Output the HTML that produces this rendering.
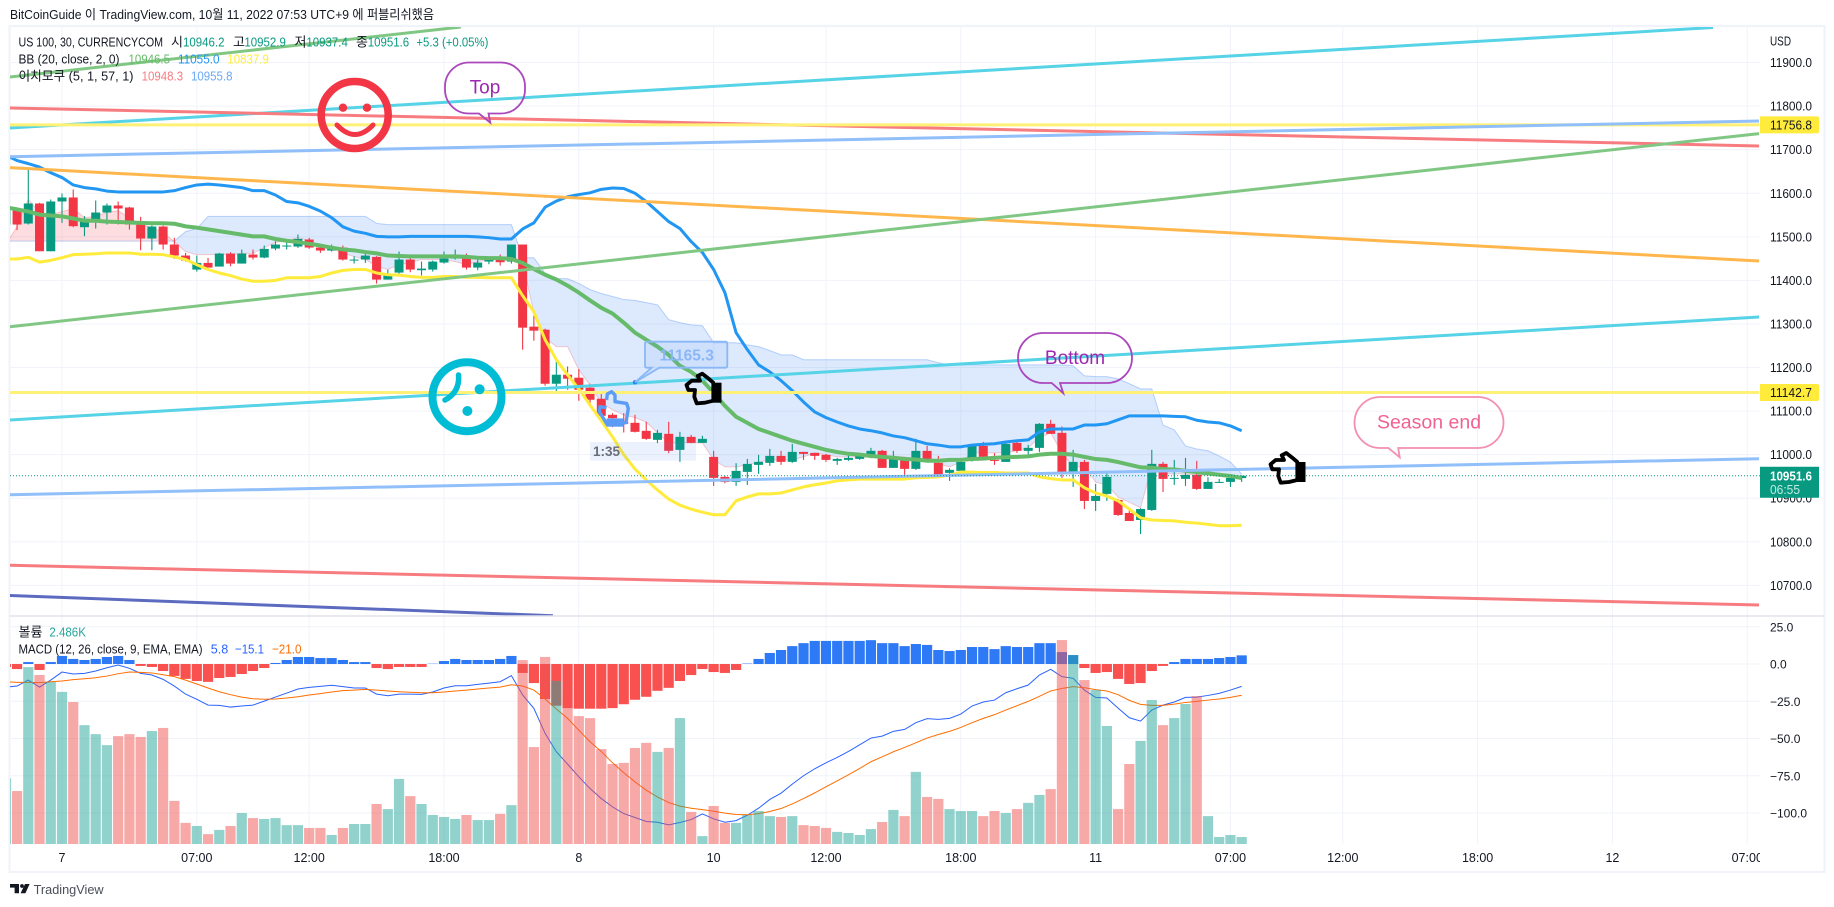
<!DOCTYPE html>
<html lang="ko">
<head>
<meta charset="utf-8">
<title>US 100 TradingView chart</title>
<style>
html,body{margin:0;padding:0;background:#fff;width:1834px;height:907px;overflow:hidden}
svg{display:block}
text{font-family:"Liberation Sans","Noto Sans CJK KR",sans-serif;font-size:13px;fill:#131722}
</style>
</head>
<body>
<svg id="chart" xmlns="http://www.w3.org/2000/svg" width="1834" height="907" viewBox="0 0 1834 907">
<defs>
<clipPath id="mainClip"><rect x="10" y="27" width="1750" height="589"/></clipPath>
<clipPath id="subClip"><rect x="10" y="617" width="1750" height="227"/></clipPath>
<clipPath id="timeClip"><rect x="10" y="845" width="1750" height="26"/></clipPath>
</defs>
<text x="10" y="19" textLength="424" lengthAdjust="spacingAndGlyphs">BitCoinGuide 이 TradingView.com, 10월 11, 2022 07:53 UTC+9 에 퍼블리쉬했음</text>
<rect x="9.5" y="26" width="1815" height="846" fill="none" stroke="#f0f3fa" stroke-width="2.2"/>
<g id="grid"></g>
<g clip-path="url(#mainClip)">
  <g id="cloud"></g>
  <g id="candles"></g>
  <g id="bands"></g>
  <g id="trends"></g>
  <g id="lastLine"></g>
</g>
<g clip-path="url(#subClip)">
  <g id="hist"></g>
  <g id="macdLines"></g>
  <g id="volume"></g>
</g>
<line x1="10" y1="616" x2="1824" y2="616" stroke="#e0e3eb" stroke-width="1.4"/>

<!-- drawings -->
<g fill="none" stroke="#f23645">
  <ellipse cx="354.7" cy="115" rx="33.5" ry="33.5" stroke-width="7.5"/>
  <circle cx="343" cy="107.7" r="4.2" fill="#f23645" stroke="none"/>
  <circle cx="367" cy="107.7" r="4.2" fill="#f23645" stroke="none"/>
  <path d="M337 125 Q355 144 373 125" stroke-width="5" stroke-linecap="round"/>
</g>
<g fill="none" stroke="#00bcd4">
  <ellipse cx="467" cy="396.7" rx="34.5" ry="34.5" stroke-width="8"/>
  <circle cx="479.6" cy="389.3" r="5" fill="#00bcd4" stroke="none"/>
  <circle cx="467.4" cy="411" r="5" fill="#00bcd4" stroke="none"/>
  <path d="M458.5 375 Q460 392 445 400" stroke-width="5.5" stroke-linecap="round"/>
</g>
<g>
  <path d="M469 62.5 H501 A24 24 0 0 1 525 86.5 V89.5 A24 24 0 0 1 501 113.5 H488.5 L490.3 122.7 L479 113.5 H469 A24 24 0 0 1 445 89.5 V86.5 A24 24 0 0 1 469 62.5 Z" fill="none" stroke="#ab47bc" stroke-width="1.8"/>
  <text x="485" y="93.5" text-anchor="middle" style="font-size:19px;fill:#9c27b0">Top</text>
</g>
<g>
  <path d="M1043 333 H1107 A25 25 0 0 1 1132 358 A25 25 0 0 1 1107 383 H1060 L1063.3 393.3 L1051.7 383 H1043 A25 25 0 0 1 1018 358 A25 25 0 0 1 1043 333 Z" fill="none" stroke="#ab47bc" stroke-width="1.8"/>
  <text x="1075" y="364" text-anchor="middle" style="font-size:19px;fill:#9c27b0">Bottom</text>
</g>
<g>
  <path d="M1380 397 H1478 A25.5 25.5 0 0 1 1503.5 422.5 A25.5 25.5 0 0 1 1478 448 H1398.2 L1399.7 457.3 L1388.5 448 H1380 A25.5 25.5 0 0 1 1354.5 422.5 A25.5 25.5 0 0 1 1380 397 Z" fill="none" stroke="#f48fb1" stroke-width="1.8"/>
  <text x="1429" y="428.5" text-anchor="middle" style="font-size:19.5px;fill:#f06292">Season end</text>
</g>
<g>
  <circle cx="635" cy="382.3" r="2.2" fill="#2f7ff0"/>
  <path d="M635 382.3 L651.7 367.7 H647 Q645 367.7 645 365.7 V343.7 Q645 341.7 647 341.7 H725.3 Q727.3 341.7 727.3 343.7 V365.7 Q727.3 367.7 725.3 367.7 H659.3 Z" fill="rgba(90,150,245,.1)" stroke="#8ab8f6" stroke-width="1.8"/>
  <text x="686.7" y="360.5" text-anchor="middle" style="font-size:15.5px;font-weight:bold;fill:#8ab8f6">11165.3</text>
</g>
<g transform="translate(598.3,391.7)" fill="none" stroke="#5b9cf6" stroke-width="3.4" stroke-linejoin="round">
  <path d="M8.3 8.3 L9 2.3 L13.3 0 L16.7 3.3 L16.7 10 L28.3 11.7 L30 16.7 L27.7 31 L9 33 L1 20 L1.7 15 L8.3 16"/>
  <rect x="8.3" y="26.7" width="17" height="8.3" fill="#5b9cf6" stroke="none"/>
</g>
<g>
  <rect x="590" y="442" width="106" height="18.7" fill="rgba(80,140,240,.11)"/>
  <text x="593" y="456" style="font-size:13.5px;font-weight:bold;fill:#6a6d78">1:35</text>
</g>
<g transform="translate(685,372.7)" fill="none" stroke="#000" stroke-width="3.8" stroke-linejoin="round">
  <path d="M1.5 12.3 L6.7 8 L15 8 L12.7 3.3 L17.3 1 L23.3 5.7 L28.3 10 V28 L20 30 L11.7 30.7 L9.3 24 L10 17.3 L3.3 17.3 Z"/>
  <rect x="27" y="10" width="9.5" height="20" fill="#000" stroke="none"/>
</g>
<g transform="translate(1269,452)" fill="none" stroke="#000" stroke-width="3.8" stroke-linejoin="round">
  <path d="M1.5 12.3 L6.7 8 L15 8 L12.7 3.3 L17.3 1 L23.3 5.7 L28.3 10 V28 L20 30 L11.7 30.7 L9.3 24 L10 17.3 L3.3 17.3 Z"/>
  <rect x="27" y="10" width="9.5" height="20" fill="#000" stroke="none"/>
</g>

<!-- legends -->
<g>
  <text x="18.5" y="46.5" textLength="144.5" lengthAdjust="spacingAndGlyphs">US 100, 30, CURRENCYCOM</text>
  <text x="171" y="46.5">시</text>
  <text x="183" y="46.5" textLength="41.5" lengthAdjust="spacingAndGlyphs" style="fill:#089981">10946.2</text>
  <text x="233" y="46.5">고</text>
  <text x="244.4" y="46.5" textLength="41.5" lengthAdjust="spacingAndGlyphs" style="fill:#089981">10952.9</text>
  <text x="294.5" y="46.5">저</text>
  <text x="306.4" y="46.5" textLength="41.5" lengthAdjust="spacingAndGlyphs" style="fill:#089981">10937.4</text>
  <text x="356" y="46.5">종</text>
  <text x="367.7" y="46.5" textLength="41.5" lengthAdjust="spacingAndGlyphs" style="fill:#089981">10951.6</text>
  <text x="416.4" y="46.5" textLength="72" lengthAdjust="spacingAndGlyphs" style="fill:#089981">+5.3 (+0.05%)</text>
  <text x="18.5" y="63.5" textLength="101" lengthAdjust="spacingAndGlyphs">BB (20, close, 2, 0)</text>
  <text x="128.5" y="63.5" textLength="41.5" lengthAdjust="spacingAndGlyphs" style="fill:#66bb6a">10946.5</text>
  <text x="178" y="63.5" textLength="41.5" lengthAdjust="spacingAndGlyphs" style="fill:#2196f3">11055.0</text>
  <text x="227.4" y="63.5" textLength="41.5" lengthAdjust="spacingAndGlyphs" style="fill:#ffeb3b">10837.9</text>
  <text x="18.5" y="80.5" textLength="115" lengthAdjust="spacingAndGlyphs">이치모쿠 (5, 1, 57, 1)</text>
  <text x="141.6" y="80.5" textLength="41.5" lengthAdjust="spacingAndGlyphs" style="fill:#f77c80">10948.3</text>
  <text x="191" y="80.5" textLength="41.5" lengthAdjust="spacingAndGlyphs" style="fill:#6aa8f5">10955.8</text>
</g>
<g>
  <text x="18.5" y="636.5">볼륨</text>
  <text x="49.4" y="636.5" textLength="36.5" lengthAdjust="spacingAndGlyphs" style="fill:#26a69a">2.486K</text>
  <text x="18.5" y="653.5" textLength="184" lengthAdjust="spacingAndGlyphs">MACD (12, 26, close, 9, EMA, EMA)</text>
  <text x="210.8" y="653.5" textLength="17.5" lengthAdjust="spacingAndGlyphs" style="fill:#2962ff">5.8</text>
  <text x="235" y="653.5" textLength="29" lengthAdjust="spacingAndGlyphs" style="fill:#2962ff">−15.1</text>
  <text x="272" y="653.5" textLength="29.5" lengthAdjust="spacingAndGlyphs" style="fill:#ff6d00">−21.0</text>
</g>
<g id="priceAxis">
  <text x="1770" y="45.5" textLength="21" lengthAdjust="spacingAndGlyphs">USD</text>
</g>
<g id="macdAxis"></g>
<g id="timeAxis" clip-path="url(#timeClip)"></g>
<g id="tags"></g>
<g>
  <polygon points="10,884 19,884 19,893.3 14.6,893.3 14.6,887.6 10,887.6" fill="#131722"/>
  <circle cx="22" cy="886" r="1.9" fill="#131722"/>
  <polygon points="25,884 29.6,884 25.4,893.3 20.6,893.3" fill="#131722"/>
  <text x="33.6" y="894" textLength="70" lengthAdjust="spacingAndGlyphs" style="fill:#4a4e59">TradingView</text>
</g>
</svg>
<script>
// ---- data (bars run from firstBar to firstBar + length - 1) ----
const firstBar = -5;
const opens = [
11528.2,11562.7,11530.5,11576.5,11466.9,11581.1,11590.3,11522.1,11539.7,11555.8,
11571.9,11567.3,11528.2,11496.1,11523.6,11482.3,11457,11424.8,11440.1,11431.7,
11461.6,11438.6,11459.3,11452.4,11473.1,11478.4,11477.7,11493.8,11475.4,11468.5,
11475.4,11446.3,11447.8,11453.9,11401.8,11417.9,11447.8,11423.3,11424.8,11440.9,
11450.1,11450.1,11429.4,11443.2,11447.8,11443.2,11482.3,11293.8,11286.9,11162.8,
11183.5,11176.6,11153.6,11128.3,11091.5,11075.4,11073.1,11054.7,11034,11047.8,
11011,11040.9,11027.1,10994.9,10949,10937.5,10960.5,10976.6,10981.2,10997.2,
10983.5,11006.4,11004.1,10999.6,10985.8,10988,10990.3,10999.6,11008.8,10969.7,
10988,10967.4,11008.7,10981.2,10958.2,10962.8,10988,11020.2,10988,10983.4,
11027.1,11008.7,11015.6,11070.8,11050.1,10955.9,10983.4,10893.8,10909.9,10896.1,
10866.2,10850.1,10873.1,10978.9,10944.4,10944.4,10953.6,10921.4,10935.2,10937.5,10946.2];
const highs = [
11574,11566.6,11660,11578,11585.7,11599.5,11608.7,11547.4,11583.4,11576.5,
11581.1,11568.9,11545.9,11525.9,11525.9,11497.6,11463.1,11457,11451.6,11463.1,
11464.6,11470.8,11470.8,11480,11489.9,11487.6,11505.3,11497.6,11480,11482.3,
11480,11455.5,11464.6,11455.5,11424.8,11466.2,11451.6,11443.2,11445.5,11466.2,
11470.8,11461.6,11450.9,11453.9,11459.3,11482.3,11482.3,11319.1,11289.2,11214.1,
11202.6,11196.5,11162.8,11145.1,11095.3,11095.3,11091.5,11075.4,11057,11075.4,
11052.4,11045.5,11043.2,11008.8,10951.3,10980.4,10990.3,10999.6,11013.3,11008.8,
11024.8,11006.4,11004.1,11001.8,10992.6,10999.6,11001.8,11015.6,11011.1,11008.8,
10994.2,11036.3,11020.2,10997.3,10968.9,10988,11022.5,11029.4,11003.4,11030.2,
11032.5,11022.5,11072.3,11080,11064.7,11011,10988,10932.9,10960.5,10898.4,
10877.7,10877,11011,10983.4,10988,10992.6,10985.7,10948.2,10944.4,10953.6,10952.9];
const lows = [
11524.4,11515.2,11528.2,11466.9,11466.9,11532.1,11522.1,11501.4,11519,11528.2,
11528.2,11516.7,11469.2,11469.2,11470.8,11449.3,11443.2,11420.2,11429.4,11431.7,
11432.5,11438.6,11447.8,11450.9,11469.2,11470.8,11474.6,11472.3,11463.1,11466.2,
11445.5,11438.6,11440.1,11392.6,11401.8,11415.6,11418.7,11411,11420.2,11438.6,
11447.8,11424.8,11423.3,11437.1,11434,11438.6,11240.9,11261.6,11158.2,11145.9,
11149,11123.7,11114.5,11087.7,11063.2,11050.9,11050.9,11034,11026.4,11003.4,
10983.5,11026.4,11027.1,10928.3,10934.4,10928.3,10930.6,10955.9,10974.3,10976.6,
10981.2,10988,10988,10983.5,10976.6,10985.8,10988,10991.9,10969.7,10969.7,
10953.6,10965.1,10988,10953.6,10939.8,10960.5,10984.2,10992.6,10976.6,10983.4,
11004.1,10997.3,11006.4,11047.8,10946.7,10926,10875.4,10870.8,10893.8,10859.3,
10847.8,10817.9,10870.8,10914.5,10930.6,10928.3,10919.1,10921.4,10935.2,10926,10937.4];
const closes = [
11570.4,11528.2,11576.5,11466.9,11581.1,11590.3,11524.4,11541.3,11555.8,11571.9,
11565,11528.2,11496.1,11523.6,11482.3,11457,11445.5,11440.1,11429.4,11461.6,
11438.6,11461.6,11452.4,11472.3,11482.3,11480,11495.3,11475.4,11468.5,11473.8,
11447.8,11447.8,11457,11401.8,11411,11447.8,11424.8,11427.1,11443.2,11450.1,
11452.4,11429.4,11440.9,11447.8,11441.7,11482.3,11291.5,11284.6,11162.8,11183.5,
11174.3,11149,11126,11089.2,11083.8,11070.8,11052.4,11036.3,11050.1,11008.8,
11040.9,11027.1,11036.3,10946.7,10937.5,10962.8,10978.8,10983.5,10997.2,10983.5,
11006.4,11001.8,10997.2,10988,10990.3,10992.6,10997.2,11008.8,10969.7,10990.3,
10967.4,11008.7,10990.3,10953.6,10965.1,10983.4,11020.2,10995,10985.7,11024.8,
11008.7,11015.6,11070.8,11047.8,10955.9,10983.4,10893.8,10905.3,10949,10861.6,
10847.8,10875.4,10978.9,10944.4,10946.7,10953.6,10921.4,10937.5,10937.5,10946.7,10951.6];
const bbUpper = [
11687,11675,11668,11660,11647,11636,11619,11613,11610,11605,
11603,11603,11603,11603,11603,11606,11613,11619,11621,11619,
11616,11613,11606,11606,11596,11581,11578,11570,11559,11544,
11523,11513,11508,11501,11500,11500,11501,11501,11501,11501,
11501,11501,11500,11498,11495,11495,11518,11532,11568,11582,
11592,11597,11601,11609,11612,11611,11600,11581,11558,11535,
11519,11489,11464,11425,11372,11280,11241,11206,11190,11170,
11147,11121,11098,11085,11075,11066,11059,11055,11050,11043,
11039,11032,11025,11022,11018,11018,11022,11024,11025,11029,
11032,11034,11052,11059,11059,11059,11068,11068,11071,11080,
11089,11089,11089,11089,11088,11087,11079,11075,11073,11066,11055];
const bbBasis = [
11568,11563,11558,11551,11549,11547,11542,11537,11537,11535,
11534,11533,11532,11531,11531,11530,11524,11521,11517,11513,
11509,11505,11501,11501,11495,11491,11488,11484,11480,11475,
11471,11469,11465,11462,11457,11456,11455,11455,11455,11455,
11455,11454,11452,11451,11451,11449,11440,11426,11413,11402,
11388,11372,11354,11337,11324,11303,11280,11264,11248,11229,
11204,11190,11170,11142,11112,11087,11073,11059,11050,11041,
11032,11025,11018,11011,11006,11002,11000,10997,10995,10993,
10990,10989,10986,10986,10988,10988,10990,10991,10993,10994,
10995,10996,11000,11002,11002,11000,10995,10990,10988,10983,
10977,10971,10970,10967,10966,10963,10960,10957,10954,10951,10946.5];
const bbLower = [
11449,11449,11453,11442,11446,11452,11459,11460,11461,11463,
11463,11463,11460,11460,11459,11454,11448,11436,11425,11417,
11411,11403,11398,11398,11400,11406,11406,11406,11409,11417,
11423,11425,11425,11417,11413,11412,11409,11407,11407,11409,
11409,11407,11407,11406,11406,11406,11365,11328,11264,11218,
11183,11151,11114,11078,11041,11000,10967,10942,10919,10898,
10884,10875,10868,10862,10862,10894,10903,10910,10910,10912,
10919,10926,10931,10935,10940,10942,10944,10944,10944,10944,
10944,10947,10948,10949,10953,10960,10960,10959,10959,10958,
10958,10958,10949,10945,10942,10942,10924,10912,10905,10894,
10875,10855,10850,10849,10848,10845,10843,10840,10837,10837,10838];
const spanB = [
11490,11490,11490,11490,11490,11490,11490,11490,11490,11490,
11490,11490,11490,11490,11490,11490,11512,11519,11547,11547,
11547,11547,11547,11547,11547,11547,11547,11547,11547,11547,
11547,11547,11547,11531,11528,11528,11528,11528,11528,11528,
11528,11528,11528,11528,11528,11528,11452,11452,11416,11404,
11404,11393,11379,11370,11363,11356,11354,11349,11344,11310,
11303,11298,11296,11257,11257,11257,11252,11248,11239,11229,
11229,11218,11218,11218,11218,11218,11218,11218,11218,11218,
11218,11218,11218,11211,11206,11206,11206,11206,11206,11206,
11206,11206,11206,11206,11206,11204,11181,11179,11179,11174,
11163,11151,11151,11068,11057,11020,11013,11009,10997,10983,10955.8];
const spanLead = [
11482,11524,11586,11556,11551,11558,11565,11544,11547,11556,
11560,11544,11528,11521,11510,11489,11466,11459,11459,11459,
11459,11462,11462,11475,11487,11491,11498,11491,11480,11475,
11462,11455,11448,11432,11425,11436,11441,11448,11448,11448,
11443,11436,11443,11448,11452,11457,11441,11326,11268,11248,
11248,11195,11160,11119,11103,11091,11085,11075,11050,11027,
11027,11027,11027,10988,10972,10972,10976,10983,10988,10988,
10988,10995,11004,11000,10995,10995,10995,10995,10995,10995,
10995,10988,10988,10979,10972,10983,11004,11004,11004,11004,
11009,11016,11039,11050,11004,10972,10972,10937,10930,10903,
10891,10878,10972,10956,10956,10956,10953,10953,10951,10951,10948.3];
const volumes = [
23.3,18.8,62.8,60,57.5,54,50.4,42.2,39,35.1,
38.3,39,38,40.1,41.2,15.3,7.5,6.4,3.5,5,
6.4,11,9.2,8.9,9.2,6.7,6.7,5.7,5.7,3.2,
5.7,7.1,7.1,14.2,12.4,23.1,17,14.2,10.3,9.6,
8.9,10.3,8.5,8.5,10.7,13.8,65.3,34.4,66.4,57.9,
48.3,45.4,44.7,33.7,28.4,28.8,34.1,35.9,32.7,34.1,
44.7,11.4,2.8,13.5,7.5,7.5,10.3,11.7,9.9,9.6,
9.9,6.7,6.4,5.7,4.3,3.9,3.2,5.3,7.8,12.1,
9.9,25.6,16.7,16,12.4,11.7,11.7,9.9,11.7,11,
12.4,14.6,17.4,19.5,72.4,67.1,58.2,54.7,41.9,12.4,
28.4,36.6,51.1,42.2,44.7,49.7,52.5,9.9,2.5,3.2,2.486];
const macdHist = [
-2,-3.4,1.3,-4,1.3,5.4,3.4,2.7,3.4,4.7,
5.4,2.7,-1.3,-2,-4.7,-8,-10,-11.4,-12,-9.4,
-8.7,-6.7,-4.7,-2.7,0.7,2.7,4.7,4.7,4,4,
2.7,1.3,1.3,-2.7,-3.4,-2,-2,-2,0.2,2,
3.4,2.7,2.7,2.7,3.4,5.4,-6,-12.8,-23.5,-28,
-29.6,-30,-30,-30,-29.6,-27,-24,-22,-18,-16,
-11.4,-7.4,-3.4,-5.4,-6,-4,0.3,3.4,7.4,9.4,
12,14,15.5,15.5,15.5,15.5,15.5,16,14,14,
12,13.4,12.8,9.4,8.7,9.4,11.4,11.4,10,12,
11.4,11.4,14,14,8,6,-2.7,-6,-5.4,-10,
-13.4,-12.8,-4.7,-1.3,1.3,3.4,3.4,3.4,4,4.7,5.8];
const macdLine = [
-15.5,-14.8,-10.8,-15.5,-10.8,-5.4,-6.7,-6.3,-4.7,-2.5,
-0.7,-2.9,-6.3,-7.4,-10.3,-14.8,-20.2,-23.7,-27.6,-27.8,
-28.9,-28.2,-27.6,-24.9,-22.2,-19.5,-16.8,-15.7,-15,-14.3,
-15.2,-16.1,-16.1,-20.2,-21.3,-20.2,-20.2,-20.4,-18.8,-16.1,
-14.6,-14.6,-13.7,-12.8,-11.9,-7.8,-20.8,-29.8,-46.6,-58.9,
-67.2,-75.7,-83.6,-90.3,-95.9,-100.4,-103,-105.7,-106.2,-108,
-106.4,-104.4,-100.6,-103.9,-106.2,-105.1,-101.5,-96.8,-90.9,-86.7,
-80.6,-75,-70.3,-66.3,-62.7,-58.7,-54.2,-49.7,-48.4,-45.2,
-43.9,-39.4,-36.7,-37.2,-36.5,-33.6,-28.2,-25.5,-24.2,-19.3,
-16.6,-14.1,-7.4,-3.6,-8.5,-9.6,-17.5,-22.4,-22.8,-29.6,
-36.1,-38.3,-30.9,-27.6,-25.5,-22.4,-22.2,-21.1,-19.7,-17.5,-15];
const macdSignal = [
-11.9,-12.3,-12.3,-12.5,-11.9,-11.4,-10.5,-9.9,-9.2,-8.1,
-6.5,-5.4,-5.6,-6,-7.2,-8.5,-10.8,-13.4,-16.1,-18.6,
-20.6,-22.2,-23.3,-23.7,-23.5,-22.8,-22,-20.8,-19.9,-18.8,
-17.9,-17.5,-17,-17.5,-18.1,-18.6,-19,-19.3,-19.3,-18.8,
-18.1,-17.5,-16.8,-16.1,-15.5,-13.9,-14.8,-17.5,-23.5,-30.2,
-36.5,-44.4,-52.2,-58.7,-66.3,-73,-79.1,-84.7,-89.2,-93,
-95.4,-96.8,-97.7,-98.8,-100.1,-101,-101.2,-100.4,-99,-97,
-93.9,-90.3,-86.5,-82.4,-78.4,-74.4,-70.1,-65.6,-62.3,-58.9,
-56,-52.9,-49.7,-47.3,-45.2,-42.6,-39.4,-36.5,-34,-30.9,
-28,-25.1,-21.7,-18.1,-16.4,-15.2,-15.9,-17.2,-18.1,-20.6,
-24.4,-27.1,-27.8,-27.8,-26.9,-25.8,-25.1,-24.2,-23.5,-22.4,-21];
const priceTicks = [11900,11800,11700,11600,11500,11400,11300,11200,11100,11000,10900,10800,10700];
const macdTicks = [25,0,-25,-50,-75,-100];
const timeBars = [0,12,22,34,46,58,68,80,92,104,114,126,138,150];
const timeLabels = ['7','07:00','12:00','18:00','8','10','12:00','18:00','11','07:00','12:00','18:00','12','07:00'];
const trendNames = ['green-top','cyan-top','red-top','yellow-top','blue-top','orange-mid','green-mid','cyan-mid','yellow-mid','blue-low','red-low','navy-low'];
const trendStartBar = [-4.63,-4.63,-4.63,-4.63,-4.63,-4.63,-4.63,-4.63,-4.63,-4.63,-4.63,-4.63];
const trendStartPrice = [11866.8,11749.8,11795.7,11756.8,11683.9,11658.7,11293.7,11079.6,11142.7,10908.1,10746.1,10676.8];
const trendEndBar = [35.5,146.95,151.05,151.05,151.05,151.05,151.05,151.05,151.05,151.05,151.05,43.7];
const trendEndPrice = [11981.6,11980.4,11708.5,11756.8,11765.8,11444.5,11736.9,11316,11142.7,10990.7,10655,10630.4];
const trendColors = ['#81c784','#56d3e6','#f77c80','#fff176','#90bff9','#ffb74d','#81c784','#56d3e6','#fff176','#90bff9','#f77c80','#5c6bc0'];
const lastPrice = 10951.6;
const tagPrices = [11756.8,11142.7];

// ---- axis functions ----
function xAt(bar){ return 62 + 11.235 * bar; }
function xOf(k){ return xAt(firstBar + k); }
function yPrice(p){ return 411.1 + (11100 - p) * 0.4357; }
function yMacd(v){ return 664 - 1.49 * v; }
function volHeight(v){ return v / 0.355; }

const NS = 'http://www.w3.org/2000/svg';
function make(parentId, tag, attrs){
  const e = document.createElementNS(NS, tag);
  for (const key in attrs) e.setAttribute(key, attrs[key]);
  document.getElementById(parentId).appendChild(e);
  return e;
}
function seriesPath(values, yFn){
  return values.map((v, k) => (k ? 'L' : 'M') + xOf(k).toFixed(2) + ' ' + yFn(v).toFixed(2)).join(' ');
}

// ---- grid ----
priceTicks.forEach(p => {
  const g = make('grid', 'line', {x1:10, x2:1760, y1:yPrice(p), y2:yPrice(p), stroke:'#f0f3fa', 'stroke-width':1});
  
  
});
macdTicks.forEach(v => {
  const g = make('grid', 'line', {x1:10, x2:1760, y1:yMacd(v), y2:yMacd(v), stroke:'#f0f3fa', 'stroke-width':1});
  
  
});
timeBars.forEach(b => {
  const g = make('grid', 'line', {x1:xAt(b), x2:xAt(b), y1:27, y2:844, stroke:'#f0f3fa', 'stroke-width':1});
  
  
});

// ---- ichimoku cloud ----
(function(){
  const runs = [];
  let cur = {up: spanLead[0] > spanB[0], a: [], b: []};
  for (let k = 0; k < spanB.length; k++){
    const x = xOf(k), ya = yPrice(spanLead[k]), yb = yPrice(spanB[k]);
    cur.a.push([x, ya]);
    cur.b.push([x, yb]);
    if (k < spanB.length - 1){
      const d0 = spanLead[k] - spanB[k], d1 = spanLead[k+1] - spanB[k+1];
      if ((d0 > 0) !== (d1 > 0)){
        const t = d0 / (d0 - d1);
        const cx = x + (xOf(k+1) - x) * t;
        const cy = ya + (yPrice(spanLead[k+1]) - ya) * t;
        cur.a.push([cx, cy]);
        cur.b.push([cx, cy]);
        runs.push(cur);
        cur = {up: d1 > 0, a: [[cx, cy]], b: [[cx, cy]]};
      }
    }
  }
  runs.push(cur);
  runs.forEach(r => {
    const pts = r.a.concat(r.b.slice().reverse()).map(p => p[0].toFixed(2) + ',' + p[1].toFixed(2)).join(' ');
    const poly = make('cloud', 'polygon', {points: pts, fill: r.up ? 'rgba(242,54,69,.17)' : 'rgba(41,120,245,.16)'});
    
    
  });
  const leadEdge = make('cloud', 'path', {d: seriesPath(spanLead, yPrice), fill:'none', stroke:'rgba(242,54,69,.25)', 'stroke-width':1});
  
  
  const baseEdge = make('cloud', 'path', {d: seriesPath(spanB, yPrice), fill:'none', stroke:'rgba(41,120,245,.3)', 'stroke-width':1});
  
  
})();

// ---- candles ----
opens.forEach((o, k) => {
  const c = closes[k], up = c >= o, col = up ? '#089981' : '#f23645', x = xOf(k);
  const wick = make('candles', 'line', {x1:x, x2:x, y1:yPrice(highs[k]), y2:yPrice(lows[k]), stroke:col, 'stroke-width':1.1});
  
  
  const top = yPrice(Math.max(o, c)), bot = yPrice(Math.min(o, c));
  const body = make('candles', 'rect', {x:x-4.5, y:top, width:9, height:Math.max(1, bot-top), fill:col});
  
  
});

// ---- bollinger bands ----
const bbUpperPath = make('bands', 'path', {d: seriesPath(bbUpper, yPrice), fill:'none', stroke:'#2196f3', 'stroke-width':3, 'stroke-linejoin':'round'});


const bbBasisPath = make('bands', 'path', {d: seriesPath(bbBasis, yPrice), fill:'none', stroke:'#66bb6a', 'stroke-width':4, 'stroke-linejoin':'round'});


const bbLowerPath = make('bands', 'path', {d: seriesPath(bbLower, yPrice), fill:'none', stroke:'#ffeb3b', 'stroke-width':3, 'stroke-linejoin':'round'});



// ---- trend lines ----
trendNames.forEach((name, k) => {
  const t = make('trends', 'line', {
    x1: xAt(trendStartBar[k]), y1: yPrice(trendStartPrice[k]),
    x2: xAt(trendEndBar[k]), y2: yPrice(trendEndPrice[k]),
    stroke: trendColors[k], 'stroke-width': 3
  });
  
  
});

// ---- last price line ----
const lastLine = make('lastLine', 'line', {x1:10, x2:1760, y1:yPrice(lastPrice), y2:yPrice(lastPrice), stroke:'#089981', 'stroke-width':1, 'stroke-dasharray':'1 2'});



// ---- macd pane ----
macdHist.forEach((v, k) => {
  const y0 = yMacd(0), y1 = yMacd(v);
  const h = make('hist', 'rect', {x:xOf(k)-5.1, y:Math.min(y0, y1), width:10.2, height:Math.abs(y1-y0), fill: v >= 0 ? '#2e79f5' : '#f95050'});
  
  
});
const macdPath = make('macdLines', 'path', {d: seriesPath(macdLine, yMacd), fill:'none', stroke:'#2962ff', 'stroke-width':1});


const signalPath = make('macdLines', 'path', {d: seriesPath(macdSignal, yMacd), fill:'none', stroke:'#ff6d00', 'stroke-width':1});


volumes.forEach((v, k) => {
  const h = volHeight(v);
  const bar = make('volume', 'rect', {x:xOf(k)-5.1, y:844-h, width:10.2, height:h, fill: closes[k] >= opens[k] ? 'rgba(38,166,154,.5)' : 'rgba(239,83,80,.5)'});
  
  
});

// ---- axes ----
priceTicks.forEach(p => {
  const t = make('priceAxis', 'text', {x:1770, y:yPrice(p)+4.5, textLength:42, lengthAdjust:'spacingAndGlyphs'});
  t.textContent = p.toFixed(1);
  
  
});
macdTicks.forEach(v => {
  const t = make('macdAxis', 'text', {x:1770, y:yMacd(v)+4.5});
  t.textContent = (v < 0 ? '−' : '') + Math.abs(v).toFixed(1);
  t.style.fontSize = '12px';
  
  
});
timeBars.forEach((b, k) => {
  const t = make('timeAxis', 'text', {x:xAt(b), y:862, 'text-anchor':'middle'});
  t.textContent = timeLabels[k];
  t.style.fontSize = '12.5px';
  
  
});

// ---- price tags ----
tagPrices.forEach(p => {
  const y = yPrice(p);
  const r = make('tags', 'path', {d:'M1760 '+(y-8.5)+' H1817 Q1819 '+(y-8.5)+' 1819 '+(y-6.5)+' V'+(y+6.5)+' Q1819 '+(y+8.5)+' 1817 '+(y+8.5)+' H1760 Z', fill:'#ffeb3b'});
  
  
  const t = make('tags', 'text', {x:1770, y:y+4.5, textLength:42, lengthAdjust:'spacingAndGlyphs'});
  t.textContent = p.toFixed(1);
  
  
});
const lastTag = make('tags', 'rect', {x:1760, y:yPrice(lastPrice)-9, width:59, height:31, fill:'#089981'});


const lastTagText = make('tags', 'text', {x:1770, y:yPrice(lastPrice)+4.5, textLength:42, lengthAdjust:'spacingAndGlyphs'});
lastTagText.textContent = lastPrice.toFixed(1);
lastTagText.style.fill = '#fff';
lastTagText.style.fontWeight = 'bold';


const countdown = make('tags', 'text', {x:1770, y:yPrice(lastPrice)+18, textLength:30, lengthAdjust:'spacingAndGlyphs'});
countdown.textContent = '06:55';
countdown.style.fill = '#c4eadf';


</script>
</body>
</html>
